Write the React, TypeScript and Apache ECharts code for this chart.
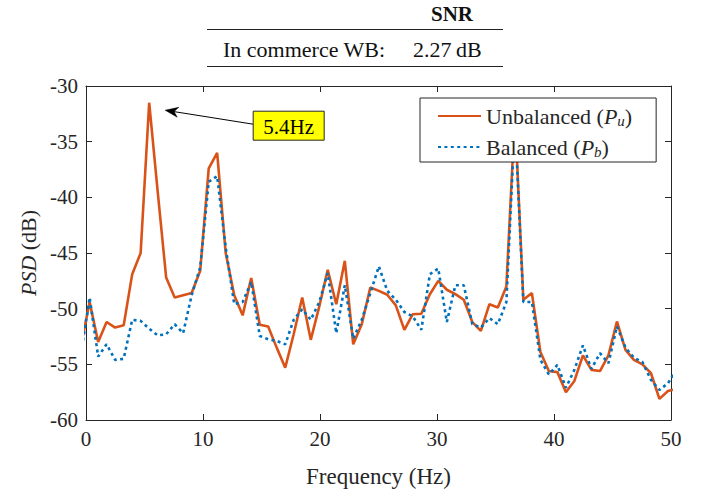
import React, { useEffect, useRef } from "react";
import * as echarts from "echarts";

// FFT bin centres (Hz); the first and last bins sit just outside the 0–50 Hz window
const freqHz = [
  -0.42, 0.31, 1.04, 1.76, 2.49, 3.22, 3.95, 4.67, 5.4, 6.13,
  6.85, 7.58, 8.3, 9.03, 9.76, 10.49, 11.21, 11.94, 12.67, 13.39,
  14.12, 14.85, 15.57, 16.3, 17.03, 17.75, 18.48, 19.21, 19.94, 20.66,
  21.39, 22.12, 22.84, 23.57, 24.3, 25.03, 25.75, 26.48, 27.21, 27.93,
  28.66, 29.39, 30.11, 30.84, 31.57, 32.29, 33.02, 33.75, 34.48, 35.2,
  35.93, 36.66, 37.38, 38.11, 38.84, 39.56, 40.29, 41.02, 41.74, 42.47,
  43.2, 43.93, 44.65, 45.38, 46.11, 46.83, 47.56, 48.29, 49.01, 49.74,
  50.47,
];

// Power spectral density of the unbalanced rotor (dB)
const unbalancedPsd = [
  -53.3, -49.4, -53.0, -51.2, -51.7, -51.5, -46.9, -45.0, -31.5, -39.5,
  -47.2, -49.0, -48.8, -48.6, -46.6, -37.4, -36.0, -45.0, -48.8, -50.6,
  -47.25, -51.45, -51.6, -53.5, -55.3, -52.3, -49.0, -52.8, -49.8, -46.5,
  -49.6, -45.7, -53.2, -51.4, -48.1, -48.4, -48.75, -49.7, -51.9, -50.5,
  -50.45, -48.7, -47.5, -48.3, -48.7, -49.2, -51.2, -52.0, -49.6, -49.9,
  -48.0, -32.5, -49.2, -48.6, -53.9, -55.6, -55.7, -57.5, -56.5, -54.2,
  -55.5, -55.6, -54.2, -51.15, -53.7, -54.6, -55.0, -55.8, -58.1, -57.4,
  -57.2,
];

// Power spectral density of the balanced rotor (dB)
const balancedPsd = [
  -54.0, -49.0, -54.3, -53.2, -54.6, -54.5, -51.0, -51.1, -51.8, -52.4,
  -52.3, -51.4, -52.2, -48.8, -46.3, -38.6, -38.1, -44.5, -49.6, -49.4,
  -47.6, -52.45, -52.75, -52.9, -53.2, -51.0, -50.05, -51.0, -49.4, -46.8,
  -52.2, -47.9, -52.7, -51.0, -48.6, -46.2, -48.4, -49.2, -50.3, -50.7,
  -51.9, -46.9, -46.4, -51.2, -47.9, -47.9, -51.4, -51.7, -50.85, -51.4,
  -49.4, -33.0, -49.4, -49.4, -54.6, -55.9, -55.05, -57.1, -55.5, -53.3,
  -55.4, -54.0, -54.9, -51.6, -53.5, -54.4, -54.8, -56.4, -57.3, -56.7,
  -55.5,
];

const xRange = [0, 50];
const xStep = 10;
const yRange = [-60, -30];
const yStep = 5;

const peakFreq = 5.4;
const peakLabel = "5.4Hz";

const snrHeader = "SNR";
const snrRowLabel = "In commerce WB:";
const snrRowValue = "2.27\u2009dB";

const seriesNames = ["Unbalanced", "Balanced"];
const legendLabels: Record<string, string> = {
  Unbalanced: "Unbalanced ({i|P}{s|u})",
  Balanced: "Balanced ({i|P}{s|b})",
};

const SERIF = "'Liberation Serif', 'DejaVu Serif', serif";
const INK = "#262626";
const ORANGE = "#D95319";
const BLUE = "#0072BD";

export default function App() {
  const ref = useRef<HTMLDivElement>(null);

  useEffect(() => {
    if (!ref.current) return;
    const chart = echarts.init(ref.current, undefined, { renderer: "svg" });

    const toPairs = (ys: number[]) => freqHz.map((f, i) => [f, ys[i]]);

    const axisBase = {
      type: "value" as const,
      axisLine: { show: true, onZero: false, lineStyle: { color: INK, width: 1 } },
      axisTick: { show: true, inside: true, length: 6, lineStyle: { color: INK, width: 1 } },
      splitLine: { show: false },
    };
    const labelStyle = { fontFamily: SERIF, fontSize: 21, color: INK };

    chart.setOption({
      animation: false,
      backgroundColor: "#ffffff",
      grid: { left: 86, top: 86, width: 585, height: 346 },
      xAxis: [
        {
          ...axisBase,
          position: "bottom",
          min: xRange[0],
          max: xRange[1],
          interval: xStep,
          axisLabel: { ...labelStyle, margin: 8 },
          name: "Frequency (Hz)",
          nameLocation: "middle",
          nameGap: 45,
          nameTextStyle: { fontFamily: SERIF, fontSize: 23, color: INK },
        },
        {
          ...axisBase,
          position: "top",
          min: xRange[0],
          max: xRange[1],
          interval: xStep,
          axisLabel: { show: false },
        },
      ],
      yAxis: [
        {
          ...axisBase,
          position: "left",
          min: yRange[0],
          max: yRange[1],
          interval: yStep,
          axisLabel: { ...labelStyle, margin: 8 },
          name: "{i|PSD} (dB)",
          nameLocation: "middle",
          nameGap: 44,
          nameTextStyle: {
            fontFamily: SERIF,
            fontSize: 22,
            color: INK,
            rich: { i: { fontFamily: SERIF, fontSize: 22, fontStyle: "italic", color: INK } },
          },
        },
        {
          ...axisBase,
          position: "right",
          min: yRange[0],
          max: yRange[1],
          interval: yStep,
          axisLabel: { show: false },
        },
      ],
      legend: {
        left: 420,
        top: 98,
        z: 10,
        orient: "vertical",
        data: seriesNames,
        itemWidth: 43,
        itemHeight: 20,
        itemGap: 8,
        padding: [7, 24, 3, 17],
        backgroundColor: "#ffffff",
        borderColor: INK,
        borderWidth: 1,
        borderRadius: 0,
        itemStyle: { opacity: 0 },
        formatter: (name: string) => legendLabels[name] ?? name,
        textStyle: {
          fontFamily: SERIF,
          fontSize: 22,
          color: INK,
          rich: {
            i: { fontFamily: SERIF, fontSize: 22, fontStyle: "italic", color: INK },
            s: {
              fontFamily: SERIF,
              fontSize: 15,
              fontStyle: "italic",
              color: INK,
              verticalAlign: "bottom",
              padding: [9, 0, 0, 0],
            },
          },
        },
      },
      series: [
        {
          name: seriesNames[0],
          type: "line",
          xAxisIndex: 0,
          yAxisIndex: 0,
          data: toPairs(unbalancedPsd),
          symbol: "none",
          showSymbol: false,
          clip: true,
          color: ORANGE,
          lineStyle: { color: ORANGE, width: 2.6 },
        },
        {
          name: seriesNames[1],
          type: "line",
          xAxisIndex: 0,
          yAxisIndex: 0,
          data: toPairs(balancedPsd),
          symbol: "none",
          showSymbol: false,
          clip: true,
          color: BLUE,
          lineStyle: { color: BLUE, width: 2.6, type: [3, 3.4], cap: "butt" },
        },
      ],
    });

    // Annotation arrow pointing at the unbalance peak, placed from the data point
    const peakIdx = freqHz.indexOf(peakFreq);
    const [px, py] = chart.convertToPixel({ xAxisIndex: 0, yAxisIndex: 0 }, [
      peakFreq,
      unbalancedPsd[peakIdx],
    ]) as number[];
    const tip = [px + 16, py + 7.5];
    const tail = [px + 104, py + 21.5];
    const dx = tail[0] - tip[0];
    const dy = tail[1] - tip[1];
    const len = Math.hypot(dx, dy);
    const ux = dx / len;
    const uy = dy / len;
    const nx = -uy;
    const ny = ux;
    const headLen = 13;
    const headHalf = 5;
    const notch = 9;
    const arrowHead = [
      tip,
      [tip[0] + ux * headLen + nx * headHalf, tip[1] + uy * headLen + ny * headHalf],
      [tip[0] + ux * notch, tip[1] + uy * notch],
      [tip[0] + ux * headLen - nx * headHalf, tip[1] + uy * headLen - ny * headHalf],
    ];
    const boxX = px + 104;
    const boxY = py + 8.5;
    const boxW = 71;
    const boxH = 29;

    chart.setOption({
      graphic: [
        // SNR table above the axes
        {
          type: "text",
          x: 452,
          y: 14,
          style: {
            text: snrHeader,
            fontFamily: SERIF,
            fontWeight: "bold",
            fontSize: 21,
            fill: "#111",
            align: "center",
            verticalAlign: "middle",
          },
        },
        {
          type: "line",
          shape: { x1: 207, y1: 29.5, x2: 503, y2: 29.5 },
          style: { stroke: "#222", lineWidth: 1 },
        },
        {
          type: "text",
          x: 223,
          y: 49,
          style: {
            text: snrRowLabel,
            fontFamily: SERIF,
            fontSize: 22,
            fill: "#111",
            align: "left",
            verticalAlign: "middle",
          },
        },
        {
          type: "text",
          x: 413,
          y: 49,
          style: {
            text: snrRowValue,
            fontFamily: SERIF,
            fontSize: 22,
            fill: "#111",
            align: "left",
            verticalAlign: "middle",
          },
        },
        {
          type: "line",
          shape: { x1: 207, y1: 66.5, x2: 503, y2: 66.5 },
          style: { stroke: "#222", lineWidth: 1 },
        },
        // Peak annotation
        {
          type: "line",
          z: 20,
          shape: { x1: tail[0], y1: tail[1], x2: tip[0] + ux * notch, y2: tip[1] + uy * notch },
          style: { stroke: "#000", lineWidth: 1 },
        },
        {
          type: "polygon",
          z: 20,
          shape: { points: arrowHead },
          style: { fill: "#000", stroke: "#000", lineWidth: 0.5 },
        },
        {
          type: "rect",
          z: 20,
          shape: { x: boxX, y: boxY, width: boxW, height: boxH },
          style: { fill: "#FFFF00", stroke: INK, lineWidth: 1 },
        },
        {
          type: "text",
          z: 21,
          x: boxX + boxW / 2,
          y: boxY + boxH / 2 + 1,
          style: {
            text: peakLabel,
            fontFamily: SERIF,
            fontSize: 21,
            fill: "#000",
            align: "center",
            verticalAlign: "middle",
          },
        },
      ],
    });

    return () => chart.dispose();
  }, []);

  return (
    <div
      ref={ref}
      style={{ position: "absolute", left: 0, top: 0, width: 710, height: 493, background: "#fff" }}
    />
  );
}
